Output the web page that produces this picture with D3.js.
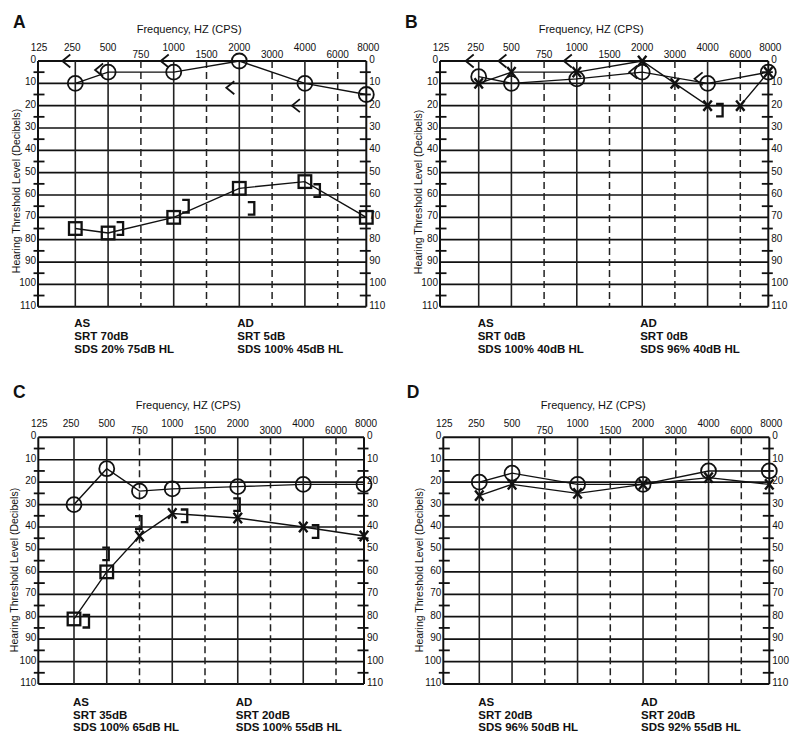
<!DOCTYPE html>
<html><head><meta charset="utf-8">
<script src="https://cdn.jsdelivr.net/npm/d3@7"></script>
<style>
body{margin:0;background:#fff}
svg{display:block}
text{font-family:"Liberation Sans",Arial,Helvetica,sans-serif;fill:#111}
</style>
</head><body>
<svg id="chart" width="800" height="732"></svg>
<script>
// ---------- axis definitions ----------
const freqs = [125, 250, 500, 750, 1000, 1500, 2000, 3000, 4000, 6000, 8000];
const upperFreqLabels = [125, 250, 500, 1000, 2000, 4000, 8000];
const lowerFreqLabels = [750, 1500, 3000, 6000];
const solidFreqs = [250, 500, 1000, 2000, 4000];
const dashedFreqs = [750, 1500, 3000, 6000];
const dbLabels = [0, 10, 20, 30, 40, 50, 60, 70, 80, 90, 100, 110];
const dbMinor = [5, 15, 25, 35, 45, 55, 65, 75, 85, 95, 105];
const freqTitle = "Frequency, HZ (CPS)";
const dbTitle = "Hearing Threshold Level (Decibels)";

// ---------- panel A data ----------
const A_rightAC = [[250, 10], [500, 5], [1000, 5], [2000, 0], [4000, 10], [8000, 15]];
const A_rightBC = [[250, 0], [500, 4], [1000, 0], [2000, 12], [4000, 20]];
const A_leftACmasked = [[250, 75], [500, 77], [1000, 70], [2000, 57], [4000, 54], [8000, 70]];
const A_leftBCmasked = [[500, 75], [1000, 65], [2000, 66], [4000, 58]];
const A_textAS = ["AS", "SRT 70dB", "SDS 20% 75dB HL"];
const A_textAD = ["AD", "SRT 5dB", "SDS 100% 45dB HL"];

// ---------- panel B data ----------
const B_rightAC = [[250, 7], [500, 10], [1000, 8], [2000, 5], [4000, 10], [8000, 5]];
const B_rightBC = [[250, 0], [500, 0], [1000, 0], [2000, 5], [4000, 8]];
const B_leftAC = [[250, 10], [500, 5], [1000, 5], [2000, 0], [3000, 10], [4000, 20], [6000, 20], [8000, 5]];
const B_leftBCmasked = [[4000, 22]];
const B_textAS = ["AS", "SRT 0dB", "SDS 100% 40dB HL"];
const B_textAD = ["AD", "SRT 0dB", "SDS 96% 40dB HL"];

// ---------- panel C data ----------
const C_rightAC = [[250, 30], [500, 14], [750, 24], [1000, 23], [2000, 22], [4000, 21], [8000, 21]];
const C_leftAC = [[250, 81, "square"], [500, 60, "square"], [750, 44, "x"], [1000, 34, "x"], [2000, 36, "x"], [4000, 40, "x"], [8000, 44, "x"]];
const C_leftBCmasked = [[250, 82], [1000, 35], [4000, 42]];
const C_leftBCmaskedOnLine = [[500, 52], [750, 38], [2000, 30]];
const C_textAS = ["AS", "SRT 35dB", "SDS 100% 65dB HL"];
const C_textAD = ["AD", "SRT 20dB", "SDS 100% 55dB HL"];

// ---------- panel D data ----------
const D_rightAC = [[250, 20], [500, 16], [1000, 21], [2000, 21], [4000, 15], [8000, 15]];
const D_leftAC = [[250, 26], [500, 21], [1000, 25], [2000, 21], [4000, 18], [8000, 21]];
const D_textAS = ["AS", "SRT 20dB", "SDS 96% 50dB HL"];
const D_textAD = ["AD", "SRT 20dB", "SDS 92% 55dB HL"];

// ---------- panel layout ----------
const panels = [
  {letter: "A", lx: 13, ly: 28, L: 38, x250: 75.3, x6000: 337.7, R: 366.3, T: 61, B: 306.7, ytx: 16, yty: 191, txtDy: 16,
   series: [
     {pts: A_rightAC, marker: "circle", connect: true},
     {pts: A_leftACmasked, marker: "square", connect: true},
     {pts: A_rightBC, marker: "lt", connect: false},
     {pts: A_leftBCmasked, marker: "rb", connect: false}],
   as: A_textAS, ad: A_textAD},
  {letter: "B", lx: 405, ly: 28, L: 440, x250: 478.7, x6000: 740.3, R: 768.3, T: 61, B: 306.7, ytx: 418, yty: 192, txtDy: 16,
   series: [
     {pts: B_rightAC, marker: "circle", connect: true},
     {pts: B_leftAC, marker: "x", connect: true},
     {pts: B_rightBC, marker: "lt", connect: false},
     {pts: B_leftBCmasked, marker: "rb", connect: false}],
   as: B_textAS, ad: B_textAD},
  {letter: "C", lx: 13, ly: 398, L: 38.3, x250: 74, x6000: 336, R: 364, T: 437.3, B: 684, ytx: 14, yty: 570, txtDy: 17.4,
   series: [
     {pts: C_rightAC, marker: "circle", connect: true},
     {pts: C_leftAC, marker: "x", connect: true},
     {pts: C_leftBCmasked, marker: "rb", connect: false},
     {pts: C_leftBCmaskedOnLine, marker: "rbOn", connect: false}],
   as: C_textAS, ad: C_textAD},
  {letter: "D", lx: 406.7, ly: 398, L: 443.3, x250: 479.3, x6000: 741.3, R: 769.3, T: 437.3, B: 684, ytx: 419, yty: 570, txtDy: 17.4,
   series: [
     {pts: D_rightAC, marker: "circle", connect: true},
     {pts: D_leftAC, marker: "x", connect: true}],
   as: D_textAS, ad: D_textAD}
];

const svg = d3.select("#chart");
const INK = "#111";

function drawPanel(p) {
  const g = svg.append("g");
  const xi = d3.scaleLinear().domain([0, 1, 9, 10]).range([p.L, p.x250, p.x6000, p.R]);
  const fx = f => xi(freqs.indexOf(f));
  const y = d3.scaleLinear().domain([0, 110]).range([p.T, p.B]);

  // panel letter
  g.append("text").attr("x", p.lx).attr("y", p.ly).attr("font-size", 17.5).attr("font-weight", "bold").text(p.letter);
  // frequency title
  g.append("text").attr("x", (p.L + p.R) / 2 - 13).attr("y", p.T - 28).attr("font-size", 11)
    .attr("text-anchor", "middle").text(freqTitle);
  // db title
  g.append("text").attr("transform", `translate(${p.ytx},${p.yty}) rotate(-90)`)
    .attr("font-size", 10.5).attr("text-anchor", "middle").attr("dominant-baseline", "central").text(dbTitle);

  // horizontal grid
  g.selectAll(".h").data(dbLabels).join("line")
    .attr("x1", p.L).attr("x2", p.R).attr("y1", d => y(d)).attr("y2", d => y(d))
    .attr("stroke", INK).attr("stroke-width", d => (d === 0 || d === 110) ? 2 : 1.7);
  // vertical solid grid
  g.selectAll(".vs").data(solidFreqs).join("line")
    .attr("x1", d => fx(d)).attr("x2", d => fx(d)).attr("y1", p.T).attr("y2", p.B)
    .attr("stroke", "#222").attr("stroke-width", 1.6);
  // vertical dashed grid
  g.selectAll(".vd").data(dashedFreqs).join("line")
    .attr("x1", d => fx(d)).attr("x2", d => fx(d)).attr("y1", p.T).attr("y2", p.B)
    .attr("stroke", "#222").attr("stroke-width", 1.5).attr("stroke-dasharray", "7,4");
  // frame verticals
  [p.L, p.R].forEach(xx => g.append("line").attr("x1", xx).attr("x2", xx).attr("y1", p.T).attr("y2", p.B)
    .attr("stroke", INK).attr("stroke-width", 2));
  // minor ticks both sides
  g.selectAll(".tl").data(dbMinor).join("line")
    .attr("x1", p.L - 4.5).attr("x2", p.L + 6.5).attr("y1", d => y(d)).attr("y2", d => y(d))
    .attr("stroke", INK).attr("stroke-width", 1.8);
  g.selectAll(".tr").data(dbMinor).join("line")
    .attr("x1", p.R - 6.5).attr("x2", p.R + 4.5).attr("y1", d => y(d)).attr("y2", d => y(d))
    .attr("stroke", INK).attr("stroke-width", 1.8);

  // y labels
  g.selectAll(".yl").data(dbLabels).join("text")
    .attr("x", p.L - 2).attr("y", d => y(d) + 2).attr("font-size", 10).attr("text-anchor", "end").text(d => d);
  g.selectAll(".yr").data(dbLabels).join("text")
    .attr("x", p.R + 3).attr("y", d => y(d) + 2).attr("font-size", 10).attr("text-anchor", "start").text(d => d);

  // frequency labels
  g.selectAll(".fu").data(upperFreqLabels).join("text")
    .attr("x", d => fx(d) + (d === 125 ? 1 : d === 8000 ? 2 : d === 250 ? -3 : 0))
    .attr("y", p.T - 10).attr("font-size", 10).attr("text-anchor", "middle").text(d => d);
  g.selectAll(".fl").data(lowerFreqLabels).join("text")
    .attr("x", d => fx(d)).attr("y", p.T - 3).attr("font-size", 10).attr("text-anchor", "middle").text(d => d);

  // data lines
  const line = d3.line().x(d => fx(d[0])).y(d => y(d[1]));
  p.series.filter(s => s.connect).forEach(s => {
    g.append("path").attr("d", line(s.pts)).attr("fill", "none").attr("stroke", INK).attr("stroke-width", 1.4);
  });

  // markers
  p.series.forEach(s => {
    s.pts.forEach(pt => {
      const m = pt[2] || s.marker;
      const cx = fx(pt[0]), cy = y(pt[1]);
      if (m === "circle") {
        g.append("circle").attr("cx", cx).attr("cy", cy).attr("r", 7.5)
          .attr("fill", "none").attr("stroke", INK).attr("stroke-width", 1.8);
      } else if (m === "square") {
        g.append("rect").attr("x", cx - 6.3).attr("y", cy - 6.3).attr("width", 12.6).attr("height", 12.6)
          .attr("fill", "none").attr("stroke", INK).attr("stroke-width", 2.3);
      } else if (m === "x") {
        g.append("path").attr("d", `M${cx - 4.2},${cy - 5.2}L${cx + 4.2},${cy + 5.2}M${cx + 4.2},${cy - 5.2}L${cx - 4.2},${cy + 5.2}`)
          .attr("fill", "none").attr("stroke", INK).attr("stroke-width", 2.4);
      } else if (m === "lt") {
        const c = cx - 9;
        g.append("path").attr("d", `M${c + 4},${cy - 6.5}L${c - 4},${cy}L${c + 4},${cy + 6.5}`)
          .attr("fill", "none").attr("stroke", INK).attr("stroke-width", 1.8);
      } else if (m === "rb" || m === "rbOn") {
        const c = m === "rb" ? cx + 12 : cx - 1;
        g.append("path").attr("d", `M${c - 3.5},${cy - 6.3}H${c + 3}V${cy + 6.3}H${c - 3.5}`)
          .attr("fill", "none").attr("stroke", INK).attr("stroke-width", 2.3);
      }
    });
  });

  // bottom texts
  const writeBlock = (lines, x0) => {
    lines.forEach((t, i) => {
      g.append("text").attr("x", x0).attr("y", p.B + p.txtDy + 4.2 + i * 12.9)
        .attr("font-size", 11.5).attr("font-weight", "bold").text(t);
    });
  };
  writeBlock(p.as, fx(250) - 1);
  writeBlock(p.ad, fx(2000) - 2);
}

panels.forEach(drawPanel);
</script>
</body></html>
